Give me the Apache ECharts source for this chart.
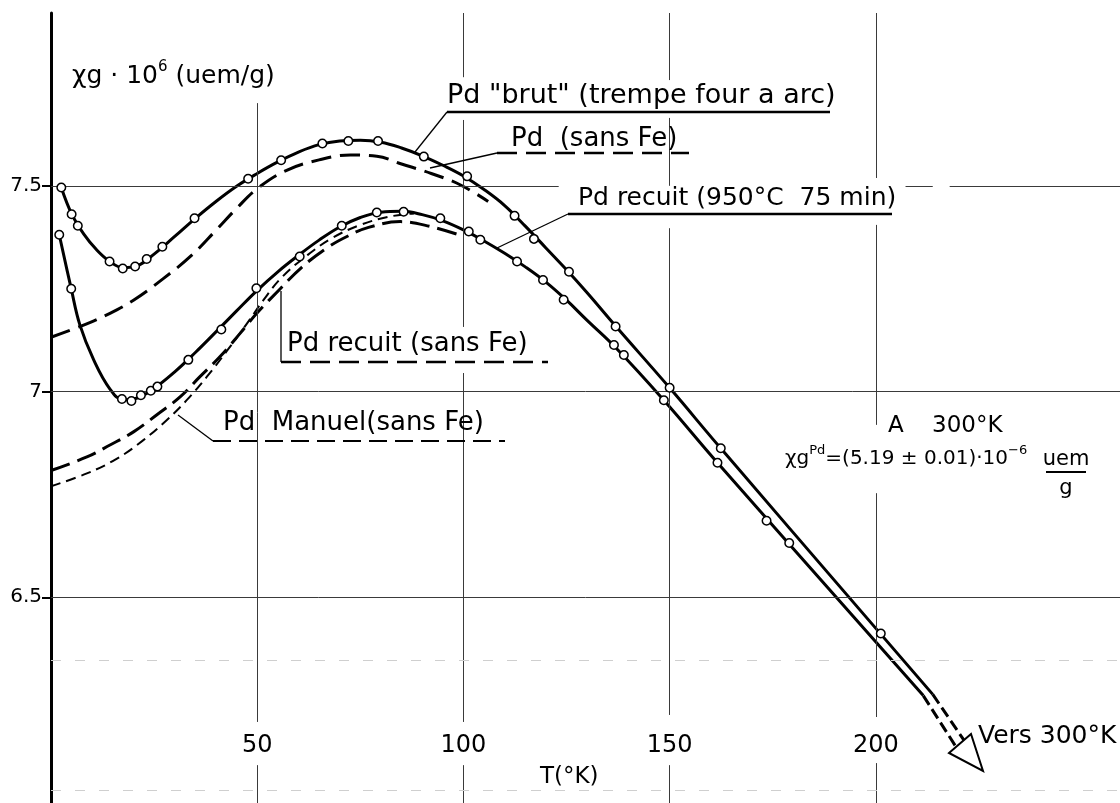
<!DOCTYPE html>
<html><head><meta charset="utf-8">
<script src="https://cdn.jsdelivr.net/npm/echarts@6/dist/echarts.min.js"></script>
<style>html,body{margin:0;padding:0;background:#fff}#c{width:1120px;height:803px}</style>
</head><body><div id="c"></div>
<script>
// ---- tick labels ----
const xTicks = [50, 100, 150, 200];
const yTicks = [6.5, 7, 7.5];

// ---- Pd "brut" (trempe four a arc) ----
// measured points (open circles)
const brutPoints = [[2.5,7.496],[5.0,7.431],[6.5,7.403],[14.2,7.316],[17.4,7.299],[20.4,7.304],[23.2,7.322],[27.0,7.352],[34.8,7.421],[47.8,7.517],[55.8,7.562],[65.8,7.603],[72.1,7.609],[79.3,7.609],[90.4,7.571],[100.9,7.523],[112.4,7.427],[117.1,7.371],[125.6,7.291],[136.9,7.158],[150.0,7.009],[162.4,6.862],[201.2,6.412]];
// drawn curve
const brutCurve = [[2.5,7.496],[5,7.432],[8,7.382],[11,7.345],[14,7.318],[17.5,7.301],[21,7.306],[25,7.334],[30,7.377],[35,7.421],[40,7.462],[45,7.499],[50,7.530],[55,7.558],[60,7.582],[65,7.600],[70,7.609],[75,7.611],[80,7.606],[85,7.592],[90,7.573],[95,7.550],[100,7.524],[105,7.491],[110,7.452],[115,7.402],[120,7.349],[125,7.296],[130,7.240],[137,7.158],[150,7.009],[162.4,6.862],[213.8,6.264]];
const brutTowards300 = [[213.8,6.264],[221.4,6.152]];

// ---- Pd recuit (950°C 75 min) ----
const recuitPoints = [[2.0,7.381],[4.9,7.250],[17.2,6.982],[19.5,6.977],[21.8,6.991],[24.2,7.002],[25.8,7.012],[33.3,7.077],[41.3,7.151],[49.8,7.251],[60.3,7.328],[70.5,7.403],[79.0,7.435],[85.5,7.437],[94.4,7.421],[101.3,7.389],[104.1,7.369],[113.0,7.316],[119.3,7.271],[124.3,7.223],[136.5,7.113],[138.9,7.089],[148.6,6.979],[161.6,6.827],[173.5,6.686],[179.0,6.632]];
const recuitCurve = [[2.0,7.381],[4.9,7.250],[7,7.162],[10.3,7.078],[14.3,7.006],[17.5,6.980],[20.5,6.983],[25,7.008],[30,7.048],[35,7.095],[40,7.145],[45,7.196],[50,7.246],[55,7.291],[60,7.331],[65,7.368],[70,7.400],[75,7.423],[80,7.436],[85,7.438],[90,7.430],[95,7.415],[100,7.393],[105,7.366],[110,7.336],[115,7.303],[120,7.266],[125,7.222],[130,7.173],[137,7.106],[148.6,6.979],[161.6,6.827],[211.5,6.261]];
const recuitTowards300 = [[211.5,6.261],[219.4,6.137]];

// ---- dashed reference curves ----
const sansFe = [[0,7.132],[7,7.158],[14.3,7.190],[20,7.222],[27.3,7.275],[34.2,7.332],[40,7.392],[45,7.445],[50,7.493],[57,7.537],[65,7.563],[72.6,7.575],[79,7.572],[85,7.553],[92.2,7.530],[99.3,7.502],[106,7.462]];
const recuitSansFe = [[0,6.808],[8.7,6.841],[14.3,6.870],[20,6.902],[25.6,6.943],[31.3,6.987],[36,7.035],[41,7.085],[45.9,7.142],[49.9,7.190],[55.6,7.250],[60.8,7.302],[66.9,7.349],[72,7.378],[77,7.399],[84.7,7.413],[92,7.401],[100.1,7.377]];
const manuelSansFe = [[0,6.770],[8.7,6.801],[16,6.837],[22.4,6.882],[28.1,6.931],[32.9,6.979],[37.8,7.036],[42.6,7.098],[47.5,7.165],[51.5,7.222],[56,7.278],[62,7.330],[68,7.372],[75,7.405],[82,7.425],[88,7.433]];

// ---------------------------------------------------------------
const FONT = '"DejaVu Sans", "Liberation Sans", sans-serif';
const X_MAX = 259.2, Y_MIN = 6.0, Y_MAX = 7.92;

// grid lines (drawn with gaps where the lettering sits)
const vGrid = {
  50:  [[7.701,6.197],[6.092,6.0]],
  100: [[7.92,7.764],[7.660,7.157],[7.045,6.197],[6.092,6.0]],
  150: [[7.92,7.757],[7.665,7.500],[7.397,6.214],[6.092,6.0]],
  200: [[7.92,7.519],[7.405,6.919],[6.753,6.209],[6.097,6.0]]
};
const hGrid = {
  7.5: [[0,123.1],[207.2,213.8],[217.9,X_MAX]],
  7.0: [[0,X_MAX]],
  6.5: [[0,X_MAX]]
};
const gridLines = [];
Object.keys(vGrid).forEach(k => vGrid[k].forEach(s => gridLines.push([{coord:[+k, s[0]]},{coord:[+k, s[1]]}])));
Object.keys(hGrid).forEach(k => hGrid[k].forEach(s => gridLines.push([{coord:[s[0], +k]},{coord:[s[1], +k]}])));
const faint = {color:'#cfcfcf', width:1, type:[10,14]};
[6.348, 6.032].forEach(v => gridLines.push([{coord:[0, v], lineStyle: faint},{coord:[X_MAX, v]}]));

const solid = {color:'#000', width:3};
const lineSeries = (data, style, z, sm) => ({
  type:'line', data, smooth: sm == null ? 0.4 : sm, symbol:'none', showSymbol:false, silent:true,
  lineStyle: Object.assign({cap:'butt', join:'round'}, style), z: z || 3, animation:false
});
const circles = (data) => ({
  type:'scatter', data, symbol:'circle', symbolSize:8.5, silent:true, z:5, animation:false,
  itemStyle:{color:'#ffffff', borderColor:'#000', borderWidth:1.5, opacity:1}
});

const txt = (x, y, text, size, extra) => ({
  type:'text', x, y, z:20, silent:true,
  style: Object.assign({text, fill:'#000', font: size + 'px ' + FONT, textAlign:'left', textVerticalAlign:'middle'}, extra || {})
});
const seg = (x1, y1, x2, y2, w, dash) => ({
  type:'line', z:20, silent:true, shape:{x1, y1, x2, y2},
  style:{stroke:'#000', lineWidth:w, lineDash: dash || null, lineCap:'butt'}
});

const chart = echarts.init(document.getElementById('c'), null, {renderer:'canvas'});
chart.setOption({
  animation:false,
  backgroundColor:'#fff',
  grid:{left:51, right:0, top:13, bottom:0, containLabel:false},
  xAxis:{
    type:'value', min:0, max:X_MAX, interval:50,
    axisLine:{show:false}, axisTick:{show:false}, splitLine:{show:false},
    axisLabel:{show:true, inside:true, margin:57, customValues:xTicks, verticalAlign:'middle',
      color:'#000', fontSize:24, fontFamily:FONT}
  },
  yAxis:{
    type:'value', min:Y_MIN, max:Y_MAX, interval:0.5,
    axisLine:{show:true, lineStyle:{color:'#000', width:3}},
    axisTick:{show:true, length:9, customValues:yTicks, lineStyle:{color:'#000', width:2}},
    splitLine:{show:false},
    axisLabel:{show:true, margin:9, customValues:yTicks, color:'#000', fontSize:20, fontFamily:FONT,
      padding:[0,0,6,0], formatter: v => String(v)}
  },
  series:[
    {type:'line', data:[], z:1, silent:true, animation:false,
     markLine:{silent:true, animation:false, symbol:['none','none'], label:{show:false},
       lineStyle:{color:'#3a3a3a', width:1, type:'solid'}, data:gridLines}},
    lineSeries(sansFe, {color:'#000', width:3, type:[20,9]}),
    lineSeries(recuitSansFe, {color:'#000', width:3, type:[20,8]}),
    lineSeries(manuelSansFe, {color:'#000', width:2, type:[10,6]}),
    lineSeries(brutCurve, solid, 4),
    lineSeries(recuitCurve, solid, 4),
    lineSeries(brutTowards300, {color:'#000', width:3, type:[11,5]}, 4, 0),
    lineSeries(recuitTowards300, {color:'#000', width:3, type:[11,5]}, 4, 0),
    circles(brutPoints),
    circles(recuitPoints)
  ],
  graphic:{elements:[
    // axis titles
    {type:'text', x:72, y:76, z:20, silent:true, style:{
      text:'{a|χg · 10}{s|6}{a| (uem/g)}', fill:'#000', textVerticalAlign:'middle',
      rich:{a:{fontSize:25, fontFamily:FONT, lineHeight:32, fill:'#000'},
            s:{fontSize:15, fontFamily:FONT, lineHeight:16, verticalAlign:'top', fill:'#000'}}}},
    txt(540, 777, 'T(°K)', 23),
    // curve labels with leaders
    txt(447, 96, 'Pd "brut" (trempe four a arc)', 27),
    seg(447, 112, 830, 112, 2.5), seg(447, 112, 415, 152, 1.3),
    txt(511, 139, 'Pd  (sans Fe)', 26),
    seg(497, 153, 689, 153, 2.5, [20,9]), seg(497, 153, 430, 168, 1.3),
    txt(578, 198, 'Pd recuit (950°C  75 min)', 25),
    seg(568, 214, 892, 214, 2.5), seg(568, 214, 497, 248, 1.3),
    txt(287, 344, 'Pd recuit (sans Fe)', 26),
    seg(281, 362, 548, 362, 2.5, [20,9]), seg(281, 362, 281, 291, 1.3),
    txt(223, 423, 'Pd  Manuel(sans Fe)', 26),
    seg(213, 441, 505, 441, 2, [18,8]), seg(213, 441, 178, 415, 1.3),
    // value at 300 K
    txt(888, 426, 'A', 23), txt(932, 426, '300°K', 23),
    {type:'text', x:785, y:459, z:20, silent:true, style:{
      text:'{a|χg}{s|Pd}{a|=(5.19 ± 0.01)·10}{s|−6}', fill:'#000', textVerticalAlign:'middle',
      rich:{a:{fontSize:20, fontFamily:FONT, lineHeight:30, fill:'#000'},
            s:{fontSize:13, fontFamily:FONT, lineHeight:14, verticalAlign:'top', fill:'#000'}}}},
    txt(1066, 460, 'uem', 21, {textAlign:'center'}),
    seg(1046, 472, 1086, 472, 2),
    txt(1066, 489, 'g', 21, {textAlign:'center'}),
    // arrow towards 300 K
    {type:'polygon', z:20, silent:true, shape:{points:[[949,753],[971,734],[983,771]]},
     style:{fill:'#fff', stroke:'#000', lineWidth:2}},
    txt(978, 736, 'Vers 300°K', 25)
  ]}
});
</script>
</body></html>
